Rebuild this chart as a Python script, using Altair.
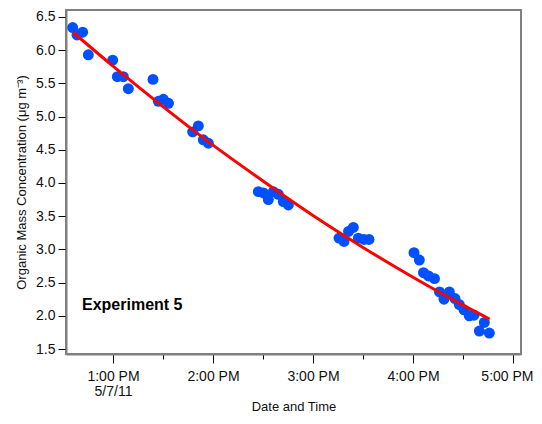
import altair as alt
import pandas as pd

DAY = "2011-05-07T"

# Measured points (time of day, organic mass concentration in ug m-3)
times = ["12:35:48", "12:38:24", "12:41:48", "12:45:12",
         "12:59:48", "13:02:36", "13:06:12", "13:09:12",
         "13:24:00", "13:27:12", "13:30:12", "13:33:18",
         "13:47:48", "13:51:12", "13:54:12", "13:57:12",
         "14:27:12", "14:30:12", "14:33:12", "14:36:12", "14:39:12", "14:42:12", "14:45:12",
         "15:15:36", "15:18:36", "15:21:18", "15:24:12", "15:27:12", "15:30:36", "15:33:36",
         "16:00:36", "16:03:48", "16:06:18", "16:09:18", "16:12:54", "16:15:54", "16:18:36",
         "16:21:48", "16:25:12", "16:27:48", "16:30:36", "16:33:48", "16:36:36", "16:39:48",
         "16:42:48", "16:45:48"]
values = [6.34, 6.23, 6.27, 5.93,
          5.85, 5.60, 5.60, 5.42,
          5.56, 5.23, 5.26, 5.20,
          4.77, 4.86, 4.65, 4.60,
          3.87, 3.85, 3.75, 3.87, 3.83, 3.72, 3.67,
          3.17, 3.12, 3.27, 3.33, 3.17, 3.15, 3.15,
          2.95, 2.84, 2.65, 2.60, 2.56, 2.36, 2.25,
          2.36, 2.26, 2.17, 2.09, 2.00, 2.01, 1.77,
          1.90, 1.74]

# Fit curve
fit_times = ["12:36:00", "13:00:00", "13:30:00", "14:00:00", "14:30:00",
             "15:00:00", "15:30:00", "16:00:00", "16:30:00", "16:46:00"]
fit_values = [6.27, 5.76, 5.15, 4.57, 4.03, 3.51, 3.03, 2.58, 2.16, 1.95]

y_ticks = [1.5, 2.0, 2.5, 3.0, 3.5, 4.0, 4.5, 5.0, 5.5, 6.0, 6.5]
x_tick_hm = [(13, 0), (13, 30), (14, 0), (14, 30), (15, 0), (15, 30), (16, 0), (16, 30), (17, 0)]

pts = pd.DataFrame({"t": [DAY + s for s in times], "v": values})
fit = pd.DataFrame({"t": [DAY + s for s in fit_times], "v": fit_values})

def dt(h, m, s=0):
    return alt.DateTime(year=2011, month=5, date=7, hours=h, minutes=m, seconds=s)

x_scale = alt.Scale(domain=[dt(12, 31, 48), dt(17, 4, 48)], nice=False)
y_scale = alt.Scale(domain=[1.425, 6.605], nice=False, zero=False)

x_axis = alt.Axis(
    values=[dt(h, m) for h, m in x_tick_hm],
    format="%-I:%M %p",
    labelExpr="minutes(datum.value) != 0 ? '' : (hours(datum.value) == 13 ? [datum.label, '5/7/11'] : datum.label)",
    tickSize={"condition": {"test": "minutes(datum.value) == 0", "value": 9}, "value": 5},
    labelPadding=6,
    labelLineHeight=15,
    labelFlush=10,
    labelFlushOffset=20,
    title="Date and Time",
    titleY=56,
    titleBaseline="alphabetic",
    grid=False,
)
y_axis = alt.Axis(
    values=y_ticks,
    format=".1f",
    tickSize=8,
    labelPadding=3,
    title="Organic Mass Concentration (μg m⁻³)",
    titlePadding=7,
    grid=False,
)

base_x = alt.X("t:T", scale=x_scale, axis=x_axis)
base_y = alt.Y("v:Q", scale=y_scale, axis=y_axis)

points = alt.Chart(pts).mark_circle(size=120, opacity=1, color="#0050ff").encode(
    x=base_x, y=base_y
)
line = alt.Chart(fit).mark_line(color="#ff0000", strokeWidth=3, interpolate="monotone").encode(
    x=base_x, y=base_y
)
label = alt.Chart(pd.DataFrame({"txt": ["Experiment 5"]})).mark_text(
    align="left", baseline="middle", fontSize=16, fontWeight="bold", color="#000000",
    font="Liberation Sans"
).encode(x=alt.value(16), y=alt.value(295), text="txt:N")

chart = alt.layer(points, line, label).properties(
    width=455, height=344,
    autosize=alt.AutoSizeParams(type="none"),
    padding={"left": 58, "top": 2, "right": 13, "bottom": 58},
).configure_view(
    stroke="#808080", strokeWidth=2
).configure_axis(
    labelFont="Liberation Sans", titleFont="Liberation Sans",
    labelFontSize=14, titleFontSize=13, labelColor="#111111", titleColor="#111111",
    titleFontWeight="normal",
    domainColor="#808080", domainWidth=2,
    tickColor="#000000", tickWidth=1,
)

chart.save("out.html", embed_options={"renderer": "svg", "actions": False})
